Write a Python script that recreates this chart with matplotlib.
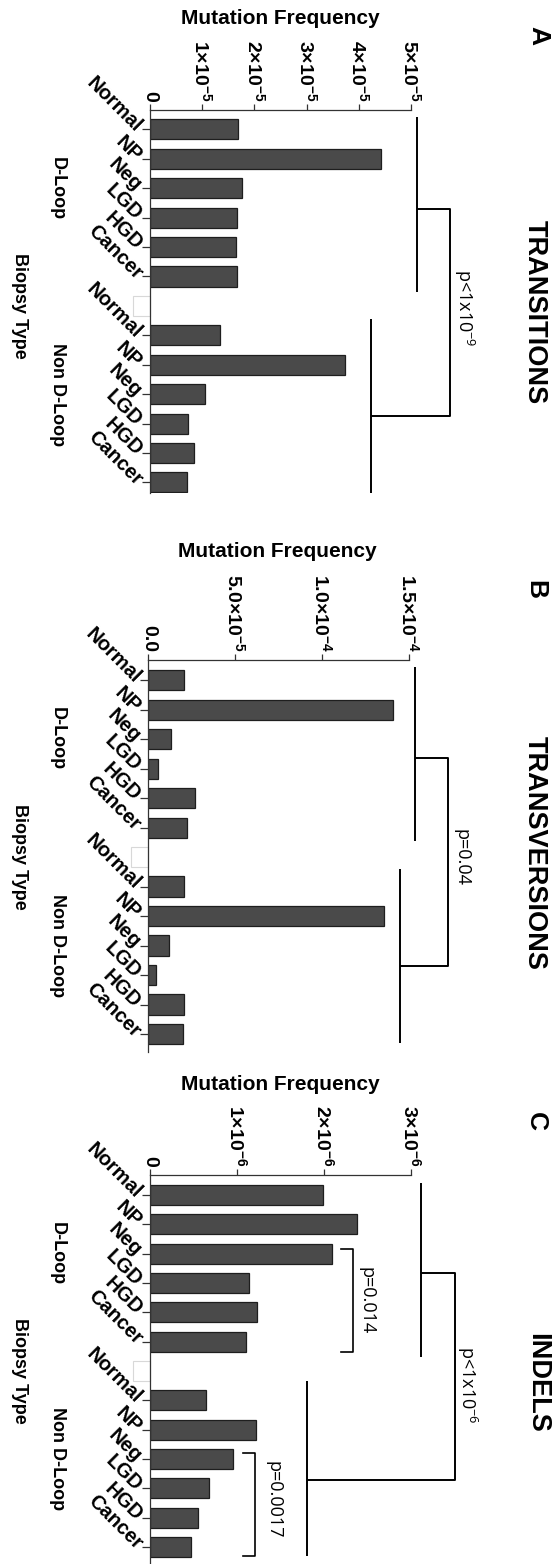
import matplotlib
matplotlib.use('Agg')
import matplotlib.pyplot as plt
from matplotlib.transforms import blended_transform_factory
from matplotlib.patches import Rectangle

plt.rcParams['font.family'] = ['Liberation Sans', 'DejaVu Sans']
plt.rcParams['mathtext.fontset'] = 'custom'
plt.rcParams['mathtext.bf'] = 'Liberation Sans:bold'
plt.rcParams['mathtext.rm'] = 'Open Sans'
plt.rcParams['mathtext.it'] = 'Open Sans:italic'

# ---------------- data ----------------
categories = ['Normal', 'NP', 'Neg', 'LGD', 'HGD', 'Cancer']
groups = ['D-Loop', 'Non D-Loop']

trans_dloop = [1.68e-5, 4.43e-5, 1.77e-5, 1.66e-5, 1.64e-5, 1.66e-5]
trans_nondloop = [1.35e-5, 3.73e-5, 1.05e-5, 0.72e-5, 0.84e-5, 0.71e-5]
transv_dloop = [2.05e-5, 1.404e-4, 1.30e-5, 0.56e-5, 2.66e-5, 2.24e-5]
transv_nondloop = [2.03e-5, 1.356e-4, 1.20e-5, 0.47e-5, 2.08e-5, 1.98e-5]
indel_dloop = [1.985e-6, 2.38e-6, 2.09e-6, 1.135e-6, 1.23e-6, 1.105e-6]
indel_nondloop = [0.645e-6, 1.22e-6, 0.953e-6, 0.68e-6, 0.55e-6, 0.468e-6]

trans_ticks = [0, 1e-5, 2e-5, 3e-5, 4e-5, 5e-5]
trans_ticklabels = ['0', '1×10$^{\\mathbf{-5}}$', '2×10$^{\\mathbf{-5}}$',
                    '3×10$^{\\mathbf{-5}}$', '4×10$^{\\mathbf{-5}}$', '5×10$^{\\mathbf{-5}}$']
transv_ticks = [0, 5e-5, 1e-4, 1.5e-4]
transv_ticklabels = ['0.0', '5.0×10$^{\\mathbf{-5}}$', '1.0×10$^{\\mathbf{-4}}$',
                     '1.5×10$^{\\mathbf{-4}}$']
indel_ticks = [0, 1e-6, 2e-6, 3e-6]
indel_ticklabels = ['0', '1×10$^{\\mathbf{-6}}$', '2×10$^{\\mathbf{-6}}$', '3×10$^{\\mathbf{-6}}$']

titles = ['TRANSITIONS', 'TRANSVERSIONS', 'INDELS']
letters = ['A', 'B', 'C']
main_p = ['p<1x10$^{-9}$', 'p=0.04', 'p<1x10$^{-6}$']
inner_p = ['p=0.014', 'p=0.0017']

# ---------------- layout ----------------
W, H = 557, 1564
fig = plt.figure(figsize=(W / 100, H / 100), dpi=100)

def fx(px):
    return px / W

def fy(py):
    return 1 - py / H

panels = [
    dict(box=(150, 110, 411, 493.3), ylim=(12.37, -0.66),
         d=trans_dloop, n=trans_nondloop, ticks=trans_ticks, tl=trans_ticklabels,
         mf=(280, 18), letter=(538, 36), title=(535, 311.7),
         br=dict(xd=5.12e-5, dspan=(-0.41, 5.52), yd=2.71, xr=5.75e-5, yn=9.74,
                 xn=4.24e-5, nspan=(6.43, 12.37), txt=(6.02e-5, 6.08))),
    dict(box=(148.3, 660, 409.3, 1051.7), ylim=(12.6, -0.68),
         d=transv_dloop, n=transv_nondloop, ticks=transv_ticks, tl=transv_ticklabels,
         mf=(277.5, 551.7), letter=(535, 590), title=(535, 852.5),
         br=dict(xd=1.533e-4, dspan=(-0.45, 5.47), yd=2.64, xr=1.724e-4, yn=9.68,
                 xn=1.447e-4, nspan=(6.40, 12.29), txt=(1.801e-4, 6.01))),
    dict(box=(150, 1175, 411, 1563), ylim=(12.55, -0.68),
         d=indel_dloop, n=indel_nondloop, ticks=indel_ticks, tl=indel_ticklabels,
         mf=(280, 1084), letter=(536, 1122), title=(536.7, 1383),
         br=dict(xd=3.115e-6, dspan=(-0.42, 5.52), yd=2.67, xr=3.506e-6, yn=9.71,
                 xn=1.805e-6, nspan=(6.36, 12.32), txt=(3.644e-6, 6.47))),
]

inner_brackets = [
    dict(x=(2.19e-6, 2.337e-6), y=(1.84, 5.36), txt=(2.494e-6, 3.61)),
    dict(x=(1.066e-6, 1.207e-6), y=(8.8, 12.32), txt=(1.414e-6, 10.39)),
]

bar_face = '#4a4a4a'
bar_edge = '#1e1e1e'
axis_col = '#333333'

for i, p in enumerate(panels):
    l, t, r, b = p['box']
    ax = fig.add_axes([fx(l), fy(b), fx(r) - fx(l), (b - t) / H])
    pos_d = list(range(0, 6))
    pos_n = list(range(7, 13))
    ax.barh(pos_d, p['d'], height=0.68, color=bar_face, edgecolor=bar_edge, linewidth=0.9)
    ax.barh(pos_n, p['n'], height=0.68, color=bar_face, edgecolor=bar_edge, linewidth=0.9)
    # faint placeholder box at the gap
    bt = blended_transform_factory(ax.transAxes, ax.transData)
    ax.add_patch(Rectangle((-17 / (r - l), 6 - 0.34), 17 / (r - l), 0.68, transform=bt,
                           facecolor='white', edgecolor='#d8d8d8', linewidth=0.8, clip_on=False))
    ax.set_xlim(0, p['ticks'][-1])
    ax.set_ylim(*p['ylim'])
    for s in ['right', 'bottom']:
        ax.spines[s].set_visible(False)
    for s in ['top', 'left']:
        ax.spines[s].set_color(axis_col)
        ax.spines[s].set_linewidth(0.9)
    ax.xaxis.tick_top()
    ax.set_xticks(p['ticks'])
    ax.set_xticklabels(p['tl'], fontsize=14, fontweight='bold', rotation=-90,
                       ha='center', va='bottom')
    ax.tick_params(axis='x', length=4, width=0.9, color=axis_col, pad=2)
    ax.set_yticks(pos_d + pos_n)
    ax.set_yticklabels(categories + categories, fontsize=14.5, fontweight='bold',
                       rotation=-45, ha='right', va='center', rotation_mode='anchor')
    ax.tick_params(axis='y', length=6, width=0.9, color=axis_col, pad=2)

    ft = blended_transform_factory(fig.transFigure, ax.transData)
    ax.text(fx(57), 2, groups[0], transform=ft,
            rotation=-90, ha='center', va='center', fontsize=13, fontweight='bold')
    ax.text(fx(57), 9, groups[1], transform=ft,
            rotation=-90, ha='center', va='center', fontsize=13, fontweight='bold')
    ax.text(fx(19), 6, 'Biopsy Type', transform=ft,
            rotation=-90, ha='center', va='center', fontsize=13, fontweight='bold')

    fig.text(fx(p['mf'][0]), fy(p['mf'][1]), 'Mutation Frequency', ha='center', va='center',
             fontsize=15, fontweight='bold')
    fig.text(fx(p['letter'][0]), fy(p['letter'][1]), letters[i], ha='center', va='center',
             fontsize=19, fontweight='bold', rotation=-90)
    fig.text(fx(p['title'][0]), fy(p['title'][1]), titles[i], ha='center', va='center',
             fontsize=19.5, fontweight='bold', rotation=-90)

    br = p['br']
    lk = dict(color='black', linewidth=1.4, clip_on=False, solid_capstyle='butt')
    ax.plot([br['xd'], br['xd']], br['dspan'], **lk)
    ax.plot([br['xn'], br['xn']], br['nspan'], **lk)
    ax.plot([br['xd'], br['xr'], br['xr'], br['xn']], [br['yd'], br['yd'], br['yn'], br['yn']], **lk)
    ax.text(br['txt'][0], br['txt'][1], main_p[i], rotation=-90, ha='center', va='center',
            fontsize=13, family='Open Sans', clip_on=False)

    if i == 2:
        for k, ib in enumerate(inner_brackets):
            ax.plot([ib['x'][0], ib['x'][1], ib['x'][1], ib['x'][0]],
                    [ib['y'][0], ib['y'][0], ib['y'][1], ib['y'][1]],
                    color='black', linewidth=1.2, clip_on=False)
            ax.text(ib['txt'][0], ib['txt'][1], inner_p[k], rotation=-90, ha='center',
                    va='center', fontsize=13, family='Open Sans', clip_on=False)

fig.savefig('out.png', dpi=100)
